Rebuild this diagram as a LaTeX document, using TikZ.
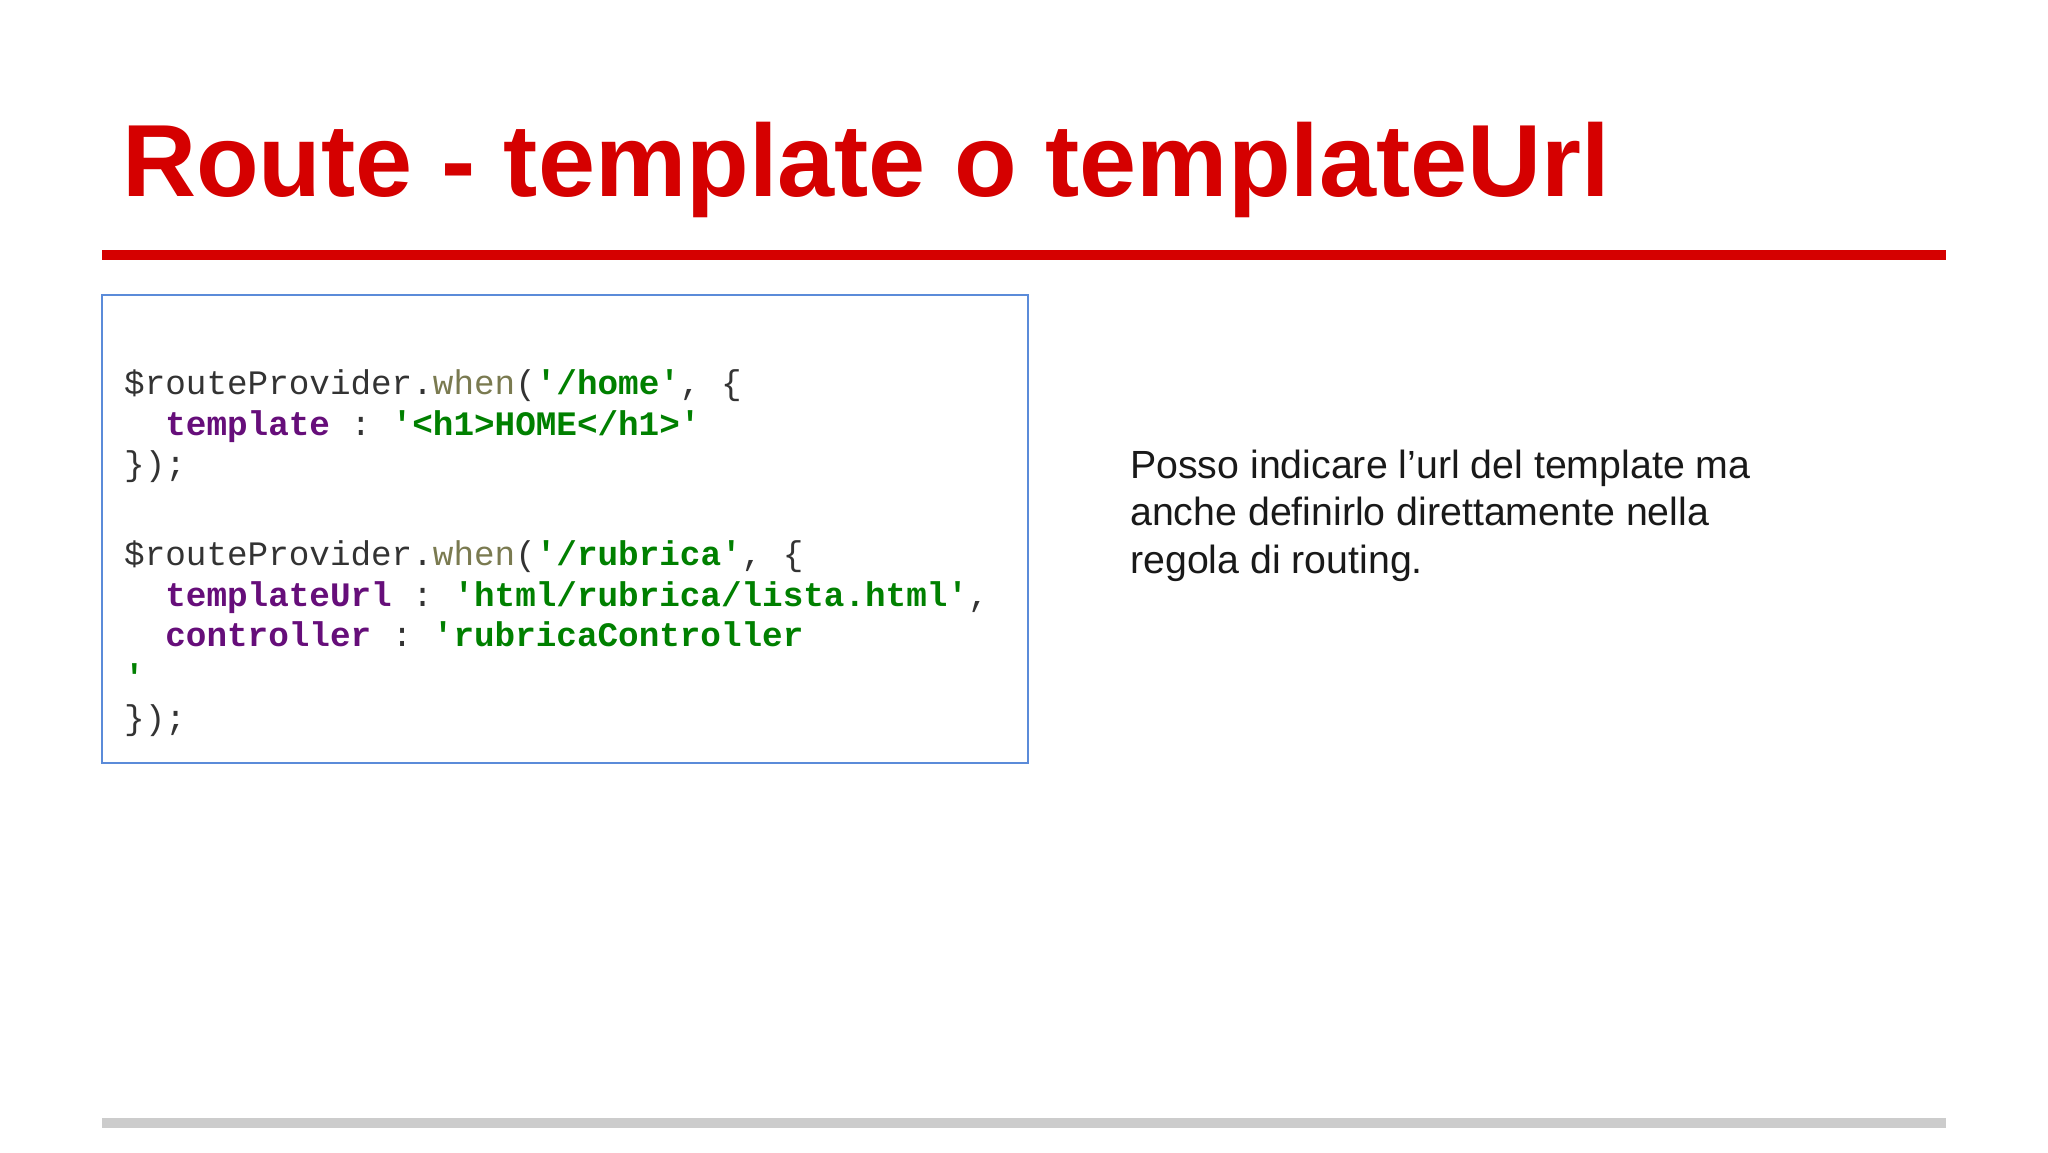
\documentclass[tikz,border=0pt]{standalone}
\usepackage{fontspec}
\setmainfont{Liberation Sans}
\setmonofont{Liberation Mono}
\definecolor{tred}{HTML}{D50000}
\definecolor{kw}{HTML}{660E7A}
\definecolor{str}{HTML}{008000}
\definecolor{fn}{HTML}{7A7A50}
\definecolor{cd}{HTML}{333333}
\definecolor{bx}{HTML}{5B8BD9}
\newcommand{\K}[1]{\textcolor{kw}{\bfseries #1}}
\newcommand{\St}[1]{\textcolor{str}{\bfseries #1}}
\newcommand{\F}[1]{\textcolor{fn}{#1}}
\begin{document}
\begin{tikzpicture}[x=1pt,y=-1pt,
  code/.style={anchor=base west,inner sep=0,font=\fontsize{34.3}{40}\selectfont\ttfamily,text=cd},
  body/.style={anchor=base west,inner sep=0,font=\fontsize{39.3}{48}\selectfont,text=black!90}]
\useasboundingbox[fill=white] (0,0) rectangle (2048,1152);
\node[anchor=base west,inner sep=0,text=tred,font=\fontsize{102.6}{110}\selectfont\bfseries] (title) at (122,196) {Route - template o templateUrl};
\draw[tred,line width=10] (102,255) coordinate (r1) -- (1946,255) coordinate (r2);
\draw[draw=bx,line width=2] (102,295) rectangle (1028,763);
\node[code] (l1) at (124,394) {\$routeProvider.\F{when}(\St{'/home'}, \{};
\node[code] (l2) at (124,435) {\phantom{xx}\K{template} : \St{'<h1>HOME</h1>'}};
\node[code] (l3) at (124,475) {\});};
\node[code] (l4) at (124,565) {\$routeProvider.\F{when}(\St{'/rubrica'}, \{};
\node[code] (l5) at (124,606) {\phantom{xx}\K{templateUrl} : \St{'html/rubrica/lista.html'},};
\node[code] (l6) at (124,646) {\phantom{xx}\K{controller} : \St{'rubricaController}};
\node[code] (l7) at (124,688) {\St{'}};
\node[code] (l8) at (124,729) {\});};
\node[body] (t1) at (1130,478) {Posso indicare l’url del template ma};
\node[body] (t2) at (1130,525) {anche definirlo direttamente nella};
\node[body] (t3) at (1130,573) {regola di routing.};
\draw[black!20,line width=10] (102,1123) -- (1946,1123);
\end{tikzpicture}
\end{document}
